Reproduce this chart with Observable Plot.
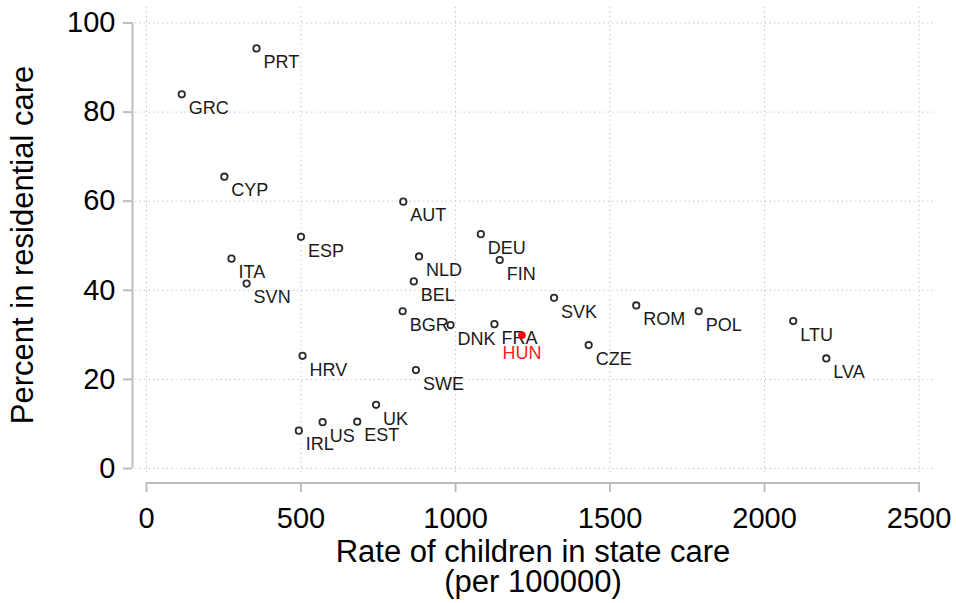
<!DOCTYPE html>
<html>
<head>
<meta charset="utf-8">
<script src="https://cdn.jsdelivr.net/npm/d3@7"></script>
<script src="https://cdn.jsdelivr.net/npm/@observablehq/plot@0.6"></script>
<style>
  html, body { margin: 0; padding: 0; background: #fff; }
  #chart svg { display: block; overflow: visible; }
</style>
</head>
<body>
<div id="chart"></div>
<script>
const countries = ["PRT","GRC","CYP","AUT","ESP","DEU","ITA","NLD","FIN","SVN","BEL","SVK","ROM","POL","LTU","BGR","DNK","FRA","HUN","CZE","LVA","HRV","SWE","UK","EST","US","IRL"];
const rate = [356,114,252,831,500,1082,275,882,1143,324,865,1319,1585,1787,2093,829,984,1126,1215,1431,2200,505,872,743,682,570,493];
const residential = [94.3,84.0,65.5,59.9,52.0,52.6,47.1,47.6,46.8,41.5,42.0,38.3,36.6,35.3,33.1,35.3,32.2,32.4,29.9,27.7,24.7,25.3,22.1,14.3,10.5,10.4,8.5];
const highlight = "HUN";
const xTicks = [0, 500, 1000, 1500, 2000, 2500];
const yTicks = [0, 20, 40, 60, 80, 100];
const xTitle = "Rate of children in state care\n(per 100000)";
const yTitle = "Percent in residential care";

const data = countries.map((c, i) => ({country: c, rate: rate[i], pct: residential[i]}));
const others = data.filter(d => d.country !== highlight);
const hl = data.filter(d => d.country === highlight);

const axisGray = "#bdbdbd";
const gridStyle = {stroke: "#c8c8c8", strokeWidth: 1, strokeDasharray: "1.5,3", strokeOpacity: 1};

const chart = Plot.plot({
  width: 956,
  height: 603,
  marginLeft: 132,
  marginRight: 23,
  marginTop: 7,
  marginBottom: 121,
  style: {fontFamily: "Arial, 'Liberation Sans', sans-serif", background: "#fff", color: "#000"},
  x: {domain: [0, 2500], range: [146, 918.5]},
  y: {domain: [0, 100], range: [468, 22.5]},
  marks: [
    Plot.gridX(xTicks, {...gridStyle, insetBottom: 8}),
    Plot.gridY(yTicks, {...gridStyle, insetLeft: 3}),
    Plot.ruleY([0], {x1: 0, x2: 2500, dy: 14.5, stroke: axisGray, strokeWidth: 2}),
    Plot.ruleX([0], {y1: 0, y2: 100, dx: -14, stroke: axisGray, strokeWidth: 2}),
    Plot.axisX({ticks: xTicks, tickSize: 10, tickPadding: 15, fontSize: 29, stroke: axisGray, strokeWidth: 2, fill: "#000", label: null, tickFormat: d => String(d)}),
    Plot.axisY({ticks: yTicks, tickSize: 9, tickPadding: 8, fontSize: 29, stroke: axisGray, strokeWidth: 2, fill: "#000", label: null}),
    Plot.text([xTitle], {frameAnchor: "bottom", lineAnchor: "top", dy: 58, fontSize: 31, lineHeight: 0.98, fill: "#000"}),
    Plot.text([yTitle], {frameAnchor: "left", textAnchor: "middle", rotate: -90, dx: -109, fontSize: 31, fill: "#000"}),
    Plot.dot(others, {x: "rate", y: "pct", r: 3.2, stroke: "#2a2a2a", strokeWidth: 1.8, fill: "none"}),
    Plot.text(others, {x: "rate", y: "pct", text: "country", textAnchor: "start", dx: 7, dy: 14, fontSize: 18, fill: "#1a1a1a"}),
    Plot.dot(hl, {x: "rate", y: "pct", r: 3.8, fill: "#ff0000", stroke: "none"}),
    Plot.text(hl, {x: "rate", y: "pct", text: "country", textAnchor: "middle", dy: 18, fontSize: 18, fill: "#ff1a1a"})
  ]
});
document.getElementById("chart").appendChild(chart);
</script>
</body>
</html>
